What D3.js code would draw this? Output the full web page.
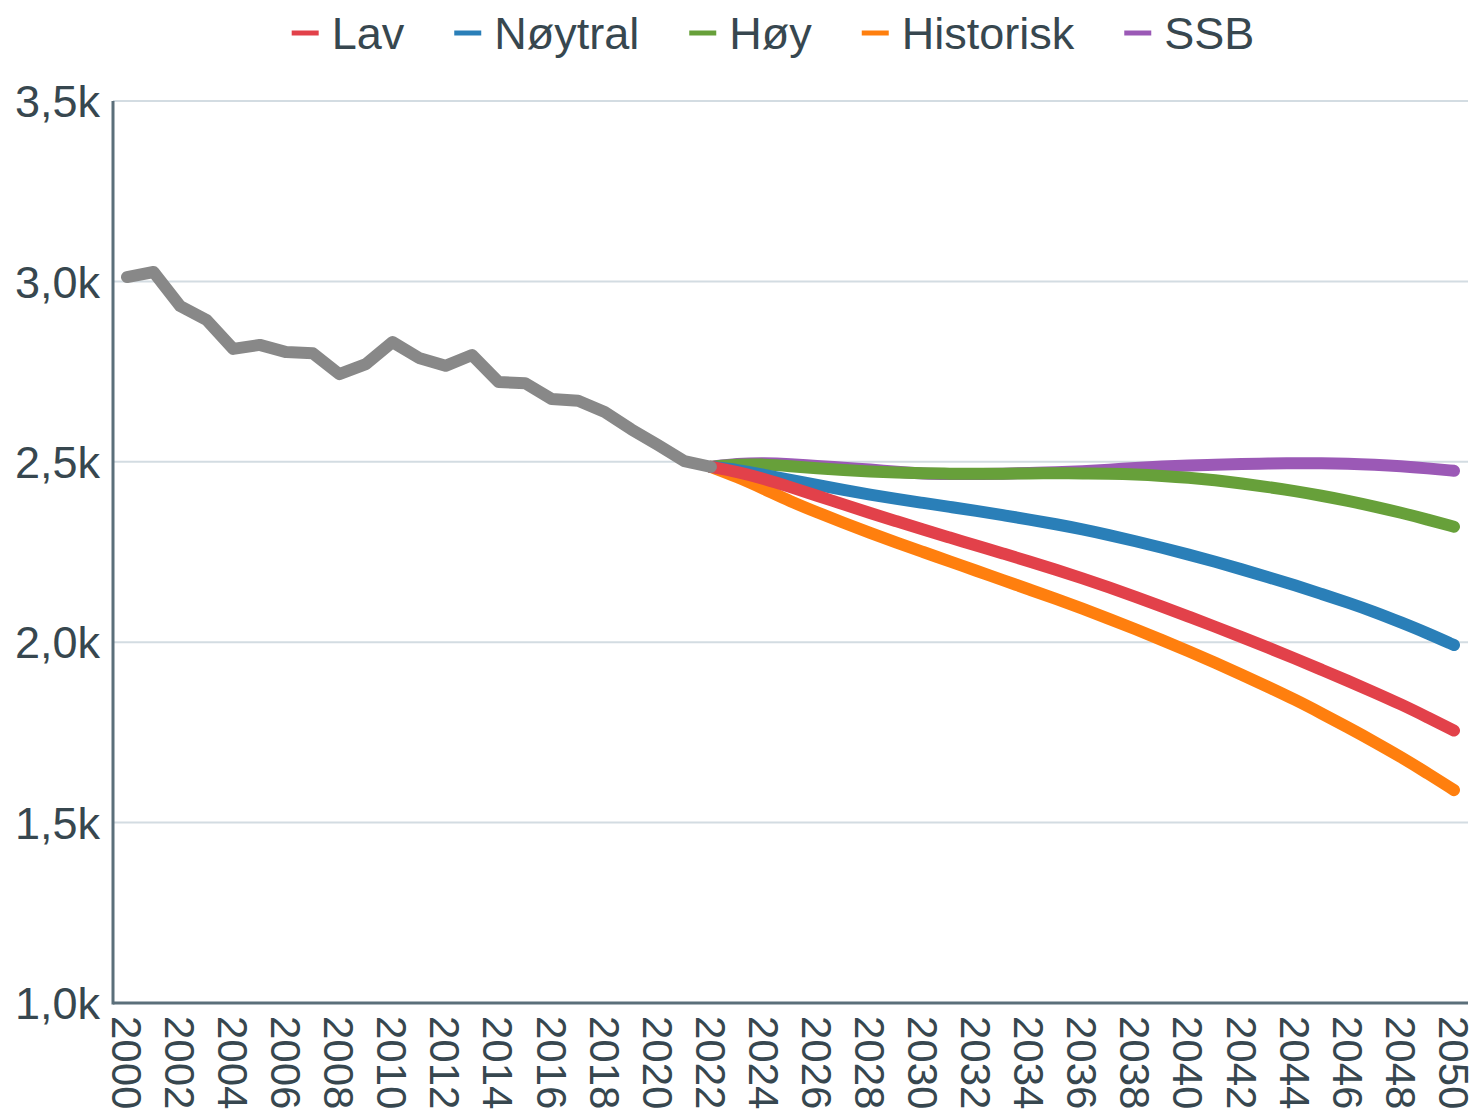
<!DOCTYPE html>
<html>
<head>
<meta charset="utf-8">
<script src="https://cdn.jsdelivr.net/npm/d3@7"></script>
<style>
  body { margin: 0; background: #fff; }
  text { font-family: "Liberation Sans", Arial, sans-serif; fill: #37474f; }
</style>
</head>
<body>
<svg></svg>
<script>
// historical series + five projections (values per year)

var width = 1479;
var height = 1116;

var histYears = d3.range(2000, 2023);
var histValues = [3012, 3026, 2932, 2893, 2813, 2824, 2804, 2801, 2743, 2771,
                  2832, 2788, 2766, 2796, 2721, 2718, 2674, 2669, 2638, 2590,
                  2547, 2502, 2486];

var projYears = d3.range(2022, 2051);
var lav = [2486, 2472, 2453, 2430, 2406, 2382, 2358, 2335, 2312, 2290,
           2268, 2246, 2224, 2201, 2177, 2152, 2126, 2099, 2071, 2043,
           2014, 1985, 1955, 1924, 1893, 1861, 1828, 1792, 1755];
var noytral = [2486, 2478, 2464, 2450, 2436, 2422, 2409, 2397, 2386, 2375,
               2364, 2352, 2340, 2327, 2313, 2297, 2280, 2262, 2243, 2223,
               2202, 2180, 2158, 2134, 2110, 2084, 2055, 2025, 1992];
var hoy = [2486, 2493, 2493, 2488, 2482, 2477, 2473, 2470, 2468, 2467,
           2467, 2467, 2468, 2468, 2468, 2467, 2465, 2461, 2456, 2449,
           2440, 2430, 2419, 2406, 2392, 2376, 2359, 2340, 2320];
var historisk = [2486, 2458, 2425, 2390, 2360, 2331, 2303, 2276, 2250, 2224,
                 2198, 2172, 2146, 2120, 2093, 2065, 2036, 2006, 1975, 1943,
                 1910, 1876, 1841, 1803, 1764, 1724, 1682, 1637, 1590];
var ssb = [2486, 2495, 2497, 2494, 2488, 2484, 2479, 2472, 2467, 2466,
           2466, 2467, 2469, 2471, 2474, 2478, 2483, 2487, 2490, 2492,
           2494, 2495, 2496, 2496, 2495, 2492, 2488, 2482, 2475];

var seriesNames = ["Lav", "Nøytral", "Høy", "Historisk", "SSB"];
var seriesColors = ["#e2414a", "#2a7fb8", "#67a03a", "#ff7f0e", "#9b59b6"];
var seriesValues = [lav, noytral, hoy, historisk, ssb];

var yTicks = [1000, 1500, 2000, 2500, 3000, 3500];
var xTicks = d3.range(2000, 2051, 2);

var plotLeft = 113, plotRight = 1468, plotTop = 101, plotBottom = 1003;

var xScale = d3.scaleLinear()
                .domain([2000, 2050])
                .range([127, 1454]);

var yScale = d3.scaleLinear()
                .domain([1000, 3500])
                .range([plotBottom, plotTop]);

var svg = d3.select('svg')
            .attr('width', width)
            .attr('height', height);

// gridlines
svg.append('g')
    .selectAll('line')
    .data(yTicks.slice(1))
    .enter()
    .append('line')
      .attr('x1', plotLeft)
      .attr('x2', plotRight)
      .attr('y1', d => yScale(d))
      .attr('y2', d => yScale(d))
      .attr('stroke', '#d3dce2')
      .attr('stroke-width', 2);

// y labels
svg.append('g')
    .selectAll('text')
    .data(yTicks)
    .enter()
    .append('text')
      .attr('x', 100)
      .attr('y', d => yScale(d))
      .attr('dy', '0.36em')
      .attr('text-anchor', 'end')
      .style('font-size', '45px')
      .text(d => d3.format('.1f')(d / 1000).replace('.', ',') + 'k');

// x labels, rotated
svg.append('g')
    .selectAll('text')
    .data(xTicks)
    .enter()
    .append('text')
      .attr('transform', d => 'translate(' + xScale(d) + ',' + 1016 + ') rotate(90)')
      .attr('dy', '0.36em')
      .attr('text-anchor', 'start')
      .style('font-size', '42px')
      .text(d => d);

// axes lines
svg.append('line')
    .attr('x1', plotLeft).attr('x2', plotLeft)
    .attr('y1', plotTop).attr('y2', plotBottom + 1.5)
    .attr('stroke', '#5b6f7a').attr('stroke-width', 3);
svg.append('line')
    .attr('x1', plotLeft).attr('x2', plotRight)
    .attr('y1', plotBottom).attr('y2', plotBottom)
    .attr('stroke', '#5b6f7a').attr('stroke-width', 3);

var line = d3.line()
              .x(d => xScale(d[0]))
              .y(d => yScale(d[1]))
              .curve(d3.curveBasis);

// projections drawn in reverse legend order so Lav sits on top
for (var i = seriesNames.length - 1; i >= 0; i--) {
  var pts = projYears.map((y, j) => [y, seriesValues[i][j]]);
  svg.append('path')
      .datum(pts)
      .attr('d', line)
      .attr('fill', 'none')
      .attr('stroke', seriesColors[i])
      .attr('stroke-width', 12)
      .attr('stroke-linecap', 'round')
      .attr('stroke-linejoin', 'round');
}

svg.append('path')
    .datum(histYears.map((y, j) => [y, histValues[j]]))
    .attr('d', d3.line().x(d => xScale(d[0])).y(d => yScale(d[1])))
    .attr('fill', 'none')
    .attr('stroke', '#888888')
    .attr('stroke-width', 12)
    .attr('stroke-linecap', 'round')
    .attr('stroke-linejoin', 'round');

// legend
var legend = svg.append('g');
var lx = 0;
seriesNames.forEach((name, i) => {
  var g = legend.append('g').attr('transform', 'translate(' + lx + ',0)');
  g.append('line')
    .attr('x1', 0).attr('x2', 27)
    .attr('y1', 33).attr('y2', 33)
    .attr('stroke', seriesColors[i])
    .attr('stroke-width', 5);
  var t = g.append('text')
    .attr('x', 40)
    .attr('y', 33)
    .attr('dy', '0.36em')
    .style('font-size', '45px')
    .text(name);
  lx += 40 + t.node().getComputedTextLength() + 50;
});
var legendWidth = lx - 50;
legend.attr('transform', 'translate(' + (773 - legendWidth / 2) + ',0)');
</script>
</body>
</html>
